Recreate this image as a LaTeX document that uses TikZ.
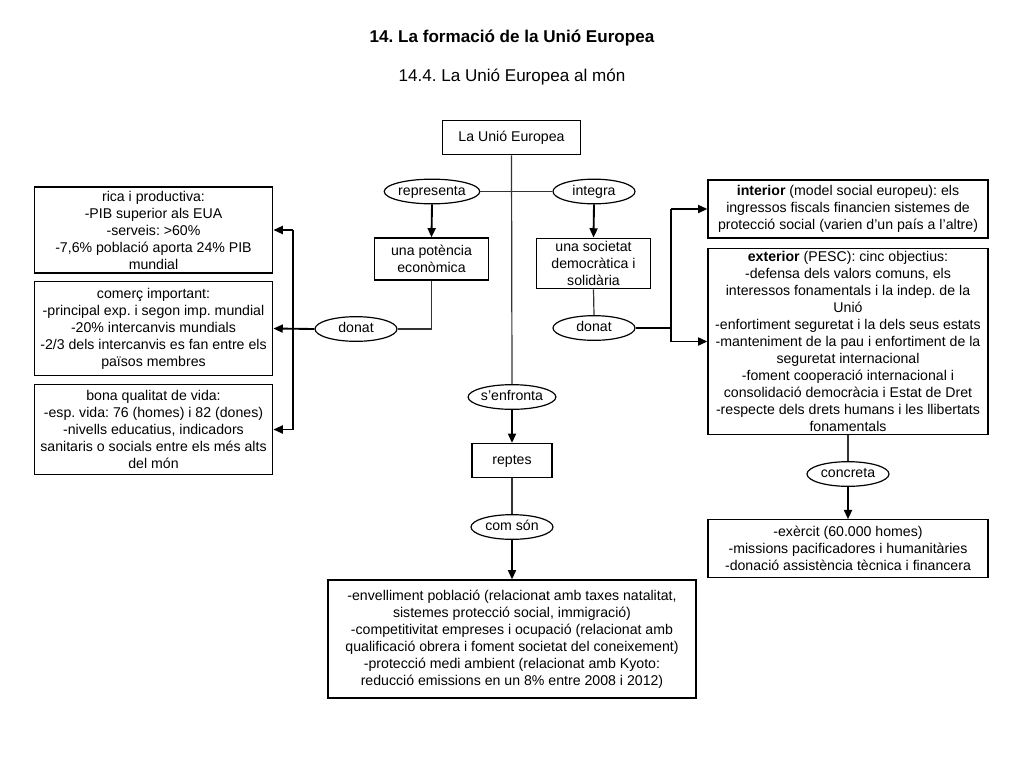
\documentclass[tikz,border=0pt]{standalone}
\usepackage{fontspec}
\setmainfont{Liberation Sans}
\usetikzlibrary{shapes.geometric,arrows.meta}
\begin{document}
\frenchspacing
\begin{tikzpicture}[x=0.75pt,y=-0.75pt,
  fnt/.style={font=\fontsize{10.6}{12.75}\selectfont\frenchspacing},
  box/.style={fnt, align=center, draw=black, line width=0.9pt, inner sep=1pt},
  sbox/.style={fnt, draw=black, line width=0.9pt, inner sep=0pt, text height=7.6pt, text depth=2.0pt},
  oval/.style={fnt, ellipse, draw=black, line width=0.9pt, inner sep=0pt, text height=7.6pt, text depth=2.0pt, minimum width=61.5pt, minimum height=18.5pt},
  conn/.style={line width=0.9pt, draw=black!80},
  arr/.style={line width=1.4pt, draw=black, -{Triangle[length=7pt,width=6pt]}},
  thick line/.style={line width=1.4pt, draw=black}]
\path[use as bounding box, fill=white] (0,0) rectangle (1024,768);

\node[font=\fontsize{12.8}{15}\selectfont\bfseries\frenchspacing] (title) at (512,38) {14. La formació de la Unió Europea};
\node[font=\fontsize{12.8}{15}\selectfont\frenchspacing] (subtitle) at (512,77) {14.4. La Unió Europea al món};

% boxes
\node[sbox, minimum width=103pt, minimum height=26pt] (eu) at (511.5,137.5) {La Unió Europea};
\node[box, minimum width=85pt, minimum height=31.5pt] (pot) at (431.5,259) {una potència\\econòmica};
\node[box, minimum width=85pt, minimum height=38pt] (soc) at (593.5,263.5) {una societat\\democràtica i\\solidària};
\node[box, minimum width=179pt, minimum height=64.5pt] (b1) at (153.5,230) {rica i productiva:\\-PIB superior als EUA\\-serveis: >60\%\\-7,6\% població aporta 24\% PIB\\mundial};
\node[box, minimum width=179pt, minimum height=70pt] (b2) at (153.5,328.5) {comerç important:\\-principal exp. i segon imp. mundial\\-20\% intercanvis mundials\\-2/3 dels intercanvis es fan entre els\\països membres};
\node[box, minimum width=179pt, minimum height=68pt] (b3) at (153.5,429.5) {bona qualitat de vida:\\-esp. vida: 76 (homes) i 82 (dones)\\-nivells educatius, indicadors\\sanitaris o socials entre els més alts\\del món};
\node[box, minimum width=210pt, minimum height=43.5pt] (inter) at (848,209) {\textbf{interior} (model social europeu): els\\ingressos fiscals financien sistemes de\\protecció social (varien d'un país a l'altre)};
\node[box, minimum width=210pt, minimum height=140pt] (ext) at (848,341.5) {\textbf{exterior} (PESC): cinc objectius:\\-defensa dels valors comuns, els\\interessos fonamentals i la indep. de la\\Unió\\-enfortiment seguretat i la dels seus estats\\-manteniment de la pau i enfortiment de la\\seguretat internacional\\-foment cooperació internacional i\\consolidació democràcia i Estat de Dret\\-respecte dels drets humans i les llibertats\\fonamentals};
\node[box, minimum width=210pt, minimum height=43pt] (br) at (848,548.5) {-exèrcit (60.000 homes)\\-missions pacificadores i humanitàries\\-donació assistència tècnica i financera};
\node[sbox, minimum width=60pt, minimum height=25.5pt] (rep) at (512,460.5) {reptes};
\node[box, minimum width=276pt, minimum height=88.5pt] (bot) at (512,639) {-envelliment població (relacionat amb taxes natalitat,\\sistemes protecció social, immigració)\\-competitivitat empreses i ocupació (relacionat amb\\qualificació obrera i foment societat del coneixement)\\-protecció medi ambient (relacionat amb Kyoto:\\reducció emissions en un 8\% entre 2008 i 2012)};

% ovals
\node[oval] (repr) at (432,191.5) {representa};
\node[oval] (integ) at (594,191.5) {integra};
\node[oval] (donl) at (356,329) {donat};
\node[oval] (donr) at (594,328) {donat};
\node[oval] (senf) at (512,397) {s'enfronta};
\node[oval] (coms) at (512,527) {com són};
\node[oval] (conc) at (848,474) {concreta};

\coordinate (jl) at (293,329);
\coordinate (jr) at (671,328);

% connectors
\draw[conn] (eu.south) -- (senf.north);
\draw[conn] (repr.east) -- (integ.west);
\draw[arr] (repr.south) -- (pot.north);
\draw[arr] (integ.south) -- (soc.north);
\draw[conn] (pot.south) |- (donl.east);
\draw[conn] (soc.south) -- (donr.north);
\draw[arr] (donl.west) -- (b2.east);
\draw[thick line] (jl |- b1.east) -- (jl |- b3.east);
\draw[arr] (jl |- b1.east) -- (b1.east);
\draw[arr] (jl |- b3.east) -- (b3.east);
\draw[thick line] (donr.east) -- (jr);
\draw[thick line] (jr |- inter.west) -- (jr |- ext.west);
\draw[arr] (jr |- inter.west) -- (inter.west);
\draw[arr] (jr |- ext.west) -- (ext.west);
\draw[conn] (ext.south) -- (conc.north);
\draw[arr] (conc.south) -- (br.north);
\draw[arr] (senf.south) -- (rep.north);
\draw[conn] (rep.south) -- (coms.north);
\draw[arr] (coms.south) -- (bot.north);
\end{tikzpicture}
\end{document}
